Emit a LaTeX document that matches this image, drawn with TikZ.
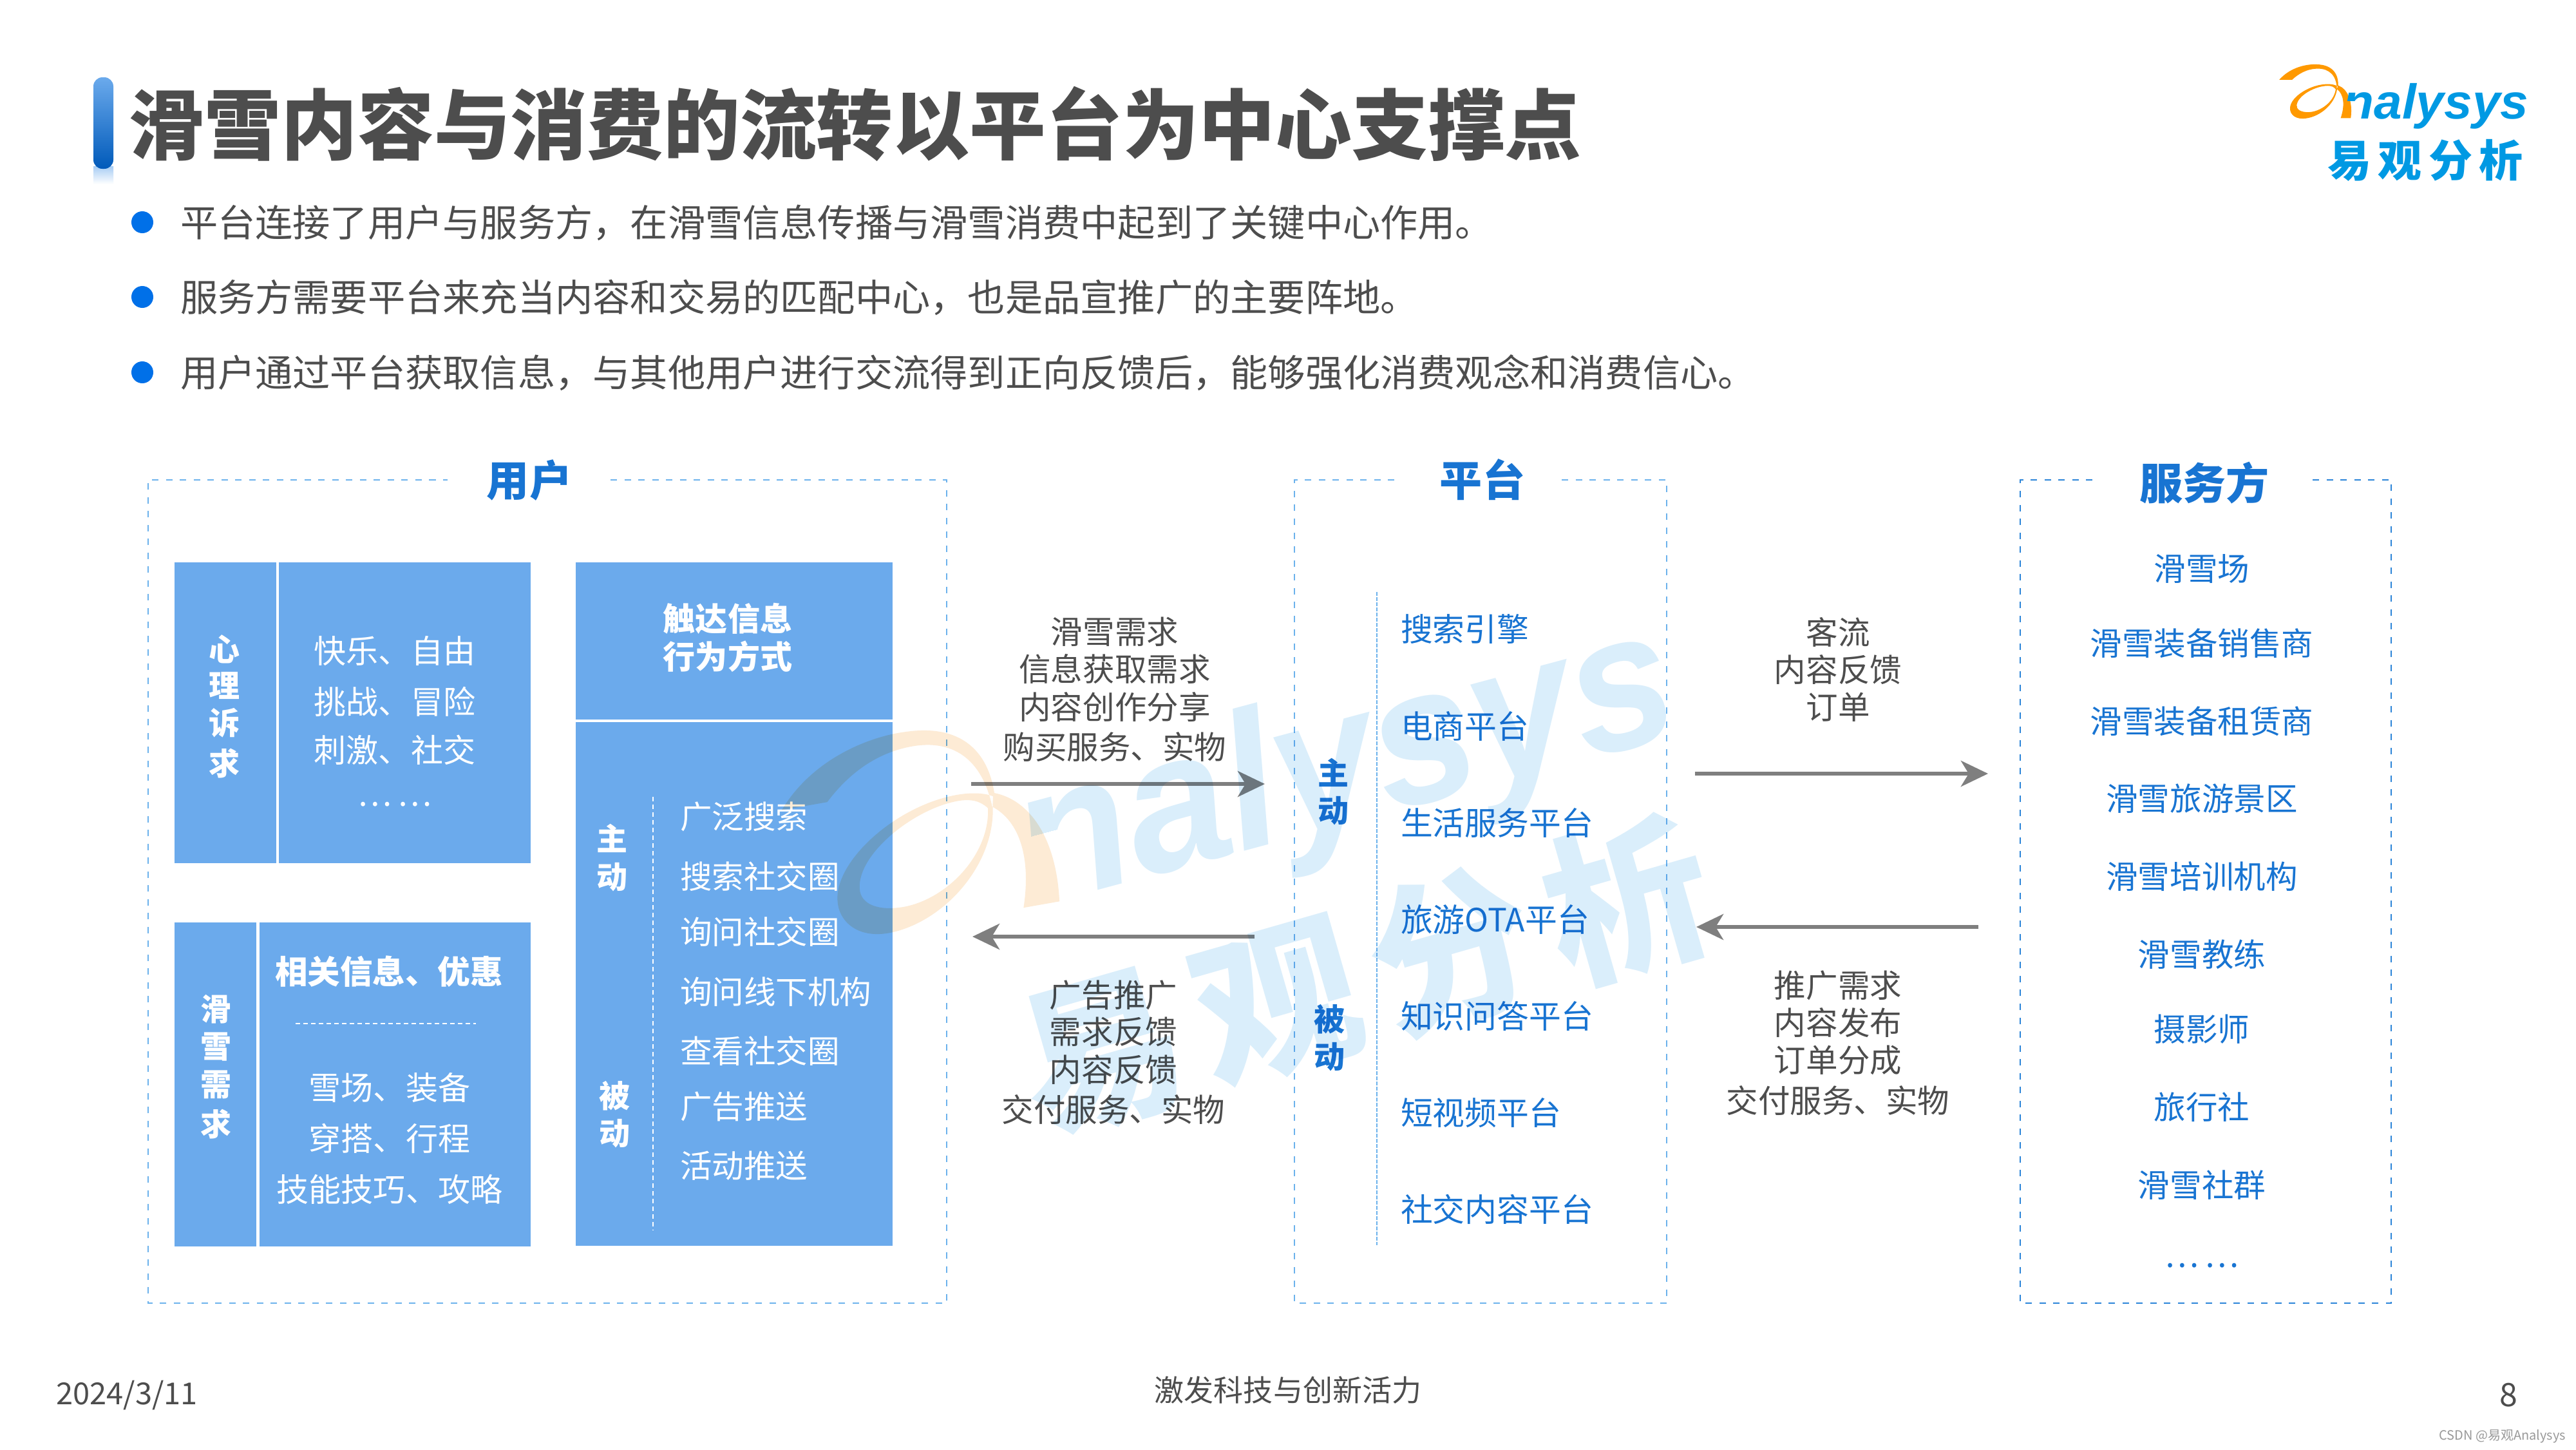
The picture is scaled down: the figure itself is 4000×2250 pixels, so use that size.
\documentclass[tikz,border=0pt]{standalone}
\usepackage{fontspec}
\setmainfont{Noto Sans CJK SC}
\newfontfamily\logofont{Liberation Sans}
\usetikzlibrary{arrows.meta}
\definecolor{tgray}{HTML}{4D4D4D}
\definecolor{tblue}{HTML}{1874D2}
\definecolor{boxblue}{HTML}{6BAAEC}
\definecolor{frameL}{HTML}{6CB2EC}
\definecolor{frameD}{HTML}{2B84D8}
\definecolor{arrowgray}{HTML}{7F7F7F}
\definecolor{bulletblue}{HTML}{0070E8}
\definecolor{logoblue}{HTML}{0099E3}
\definecolor{logoorange}{HTML}{FF9900}
\definecolor{wmblue}{HTML}{DAEEFB}
\definecolor{wmorange}{HTML}{FDEBD5}
\newcommand{\fs}[1]{\dimen0=0.28453pt \dimen0=#1\dimen0 \fontsize{\the\dimen0}{\the\dimen0}\selectfont}
\newcommand{\logoswoosh}{%
  (363,192) .. controls (410,130) and (480,118) .. (515,120) .. controls (580,122) and (603,165) .. (602,218) .. controls (640,235) and (662,290) .. (653,371) -- (612,371) .. controls (630,310) and (625,260) .. (597,235) .. controls (595,170) and (565,140) .. (520,140) .. controls (475,140) and (440,165) .. (415,192) -- cycle
  (598,232) .. controls (590,310) and (520,372) .. (458,373) .. controls (420,373) and (405,345) .. (407,322) .. controls (410,270) and (490,212) .. (560,212) .. controls (575,212) and (590,215) .. (600,222) -- cycle
  (592,236) .. controls (585,295) and (530,342) .. (480,343) .. controls (450,343) and (432,330) .. (434,310) .. controls (438,265) and (510,220) .. (560,220) .. controls (575,220) and (585,225) .. (592,236) -- cycle}
\newcommand{\nclip}[2]{\clip ({-.3*#1},{-.36*#1}) -- ({(.18+.36*.2126)*#1*#2},{-.36*#1}) -- ({.18*#1*#2},0) -- ({.1*#1*#2},{.5*#1}) -- ({9*#1},{.5*#1}) -- ({9*#1},{-2*#1}) -- ({-.3*#1},{-2*#1}) -- cycle;}
\tikzset{
  tx/.code={\pgfmathsetlengthmacro\txh{#1*0.2504pt}\pgfmathsetlengthmacro\txd{#1*0.03414pt}%
    \tikzset{font=\fs{#1},inner sep=0pt,outer sep=0pt,text height=\txh,text depth=\txd}},
  tb/.code={\pgfmathsetlengthmacro\txh{#1*0.2504pt}\pgfmathsetlengthmacro\txd{#1*0.03414pt}%
    \tikzset{font=\fs{#1}\bfseries,inner sep=0pt,outer sep=0pt,text height=\txh,text depth=\txd}},
  graytx/.style={tx=#1,text=tgray},
  bluetx/.style={tx=#1,text=tblue},
  whitetx/.style={tx=#1,text=white},
  bluebold/.style={tb=#1,text=tblue},
  whitebold/.style={tb=#1,text=white},
  graybold/.style={tb=#1,text=tgray},
  panel/.style={fill=boxblue,draw=none},
  frameline/.style={draw=#1,line width=0.024cm,dash pattern=on 0.10cm off 0.115cm},
  flow/.style={draw=arrowgray,line width=0.065cm,-{Stealth[length=0.42cm,width=0.40cm,inset=0.12cm]}},
  whitedash/.style={draw=white,line width=0.016cm,dash pattern=on 0.07cm off 0.05cm}
}
\begin{document}
\begin{tikzpicture}[x=0.01cm,y=-0.01cm]
\useasboundingbox (0,0) rectangle (4000,2250);
\fill[white] (0,0) rectangle (4000,2250);
% title bar
\shade[top color=boxblue!60,bottom color=white,draw=none] (145,258) rectangle (176,286);
\shade[top color=boxblue,bottom color=bulletblue!80!black,rounded corners=0.14cm] (145,120) rectangle (176,262);
\node[graybold=118.7,anchor=west] (title) at (199,193) {滑雪内容与消费的流转以平台为中心支撑点};
% bullets
\foreach \y/\t [count=\i] in {345/平台连接了用户与服务方，在滑雪信息传播与滑雪消费中起到了关键中心作用。,
  461/服务方需要平台来充当内容和交易的匹配中心，也是品宣推广的主要阵地。,
  578/用户通过平台获取信息，与其他用户进行交流得到正向反馈后，能够强化消费观念和消费信心。}{
  \fill[bulletblue] (221,\y) circle (17);
  \node[graytx=58.2,anchor=west] (bul\i) at (280,\y) {\t};
}
% logo
\begin{scope}[shift={(3400,60)},x=0.003827cm,y=-0.003333cm]
  \fill[logoorange,even odd rule] \logoswoosh;
\end{scope}
\begin{scope}[shift={(3638,184)}]
  \nclip{76}{1.03}
  \node[anchor=base west,inner sep=0pt,text=logoblue,font={\logofont\fs{76}\bfseries\itshape},xscale=1.03] (logotext) at (0,0) {nalysys};
\end{scope}
\node[tb=68,text=logoblue,anchor=center] (logocn) at (3766,249) {\addfontfeature{LetterSpace=15}易观分析};
% frames
\coordinate (u1) at (948,745); \coordinate (u2) at (695,745);
\draw[frameline=frameL] (u1) -- (1470,745) -- (1470,2023) -- (230,2023) -- (230,745) -- (u2);
\node[bluebold=66] (hUser) at (822,745) {用户};
\coordinate (p1) at (2425,745); \coordinate (p2) at (2168,745);
\draw[frameline=frameL] (p1) -- (2588,745) -- (2588,2023) -- (2010,2023) -- (2010,745) -- (p2);
\node[bluebold=66] (hPlat) at (2302,745) {平台};
\coordinate (s1) at (3591,745); \coordinate (s2) at (3252,745);
\draw[frameline=frameD] (s1) -- (3713,745) -- (3713,2023) -- (3137,2023) -- (3137,745) -- (s2);
\node[bluebold=67] (hServ) at (3423,750) {服务方};
% user panels
\fill[panel] (271,873) rectangle (429,1340);
\fill[panel] (433,873) rectangle (824,1340);
\fill[panel] (271,1432) rectangle (398,1935);
\fill[panel] (403,1432) rectangle (824,1935);
\fill[panel] (894,873) rectangle (1386,1117);
\fill[panel] (894,1121) rectangle (1386,1934);
% psychological
\foreach \t/\y [count=\i] in {心/1008,理/1064,诉/1122,求/1185}
  \node[whitebold=48] (xl\i) at (349,\y) {\t};
\foreach \t/\y [count=\i] in {快乐、自由/1010,挑战、冒险/1089,刺激、社交/1164}
  \node[whitetx=50] (xla\i) at (613,\y) {\t};
\node[whitetx=50] (xla4) at (613,1232) {…\kern0.09cm…};
% ski demand
\foreach \t/\y [count=\i] in {滑/1566,雪/1624,需/1683,求/1745}
  \node[whitebold=48] (xq\i) at (336,\y) {\t};
\node[whitebold=50.5] (rel) at (604,1508) {相关信息、优惠};
\coordinate (d1) at (459,1589); \coordinate (d2) at (739,1589);
\draw[whitedash] (d1) -- (d2);
\foreach \t/\y [count=\i] in {雪场、装备/1688,穿搭、行程/1767,技能技巧、攻略/1846}
  \node[whitetx=50] (xqa\i) at (605,\y) {\t};
% touch
\node[whitebold=50] (ch1) at (1130,960) {触达信息};
\node[whitebold=50] (ch2) at (1130,1019) {行为方式};
\node[whitebold=48] (zd1) at (950,1302) {主};
\node[whitebold=48] (zd2) at (950,1361) {动};
\node[whitebold=48] (bd1) at (955,1701) {被};
\node[whitebold=48] (bd2) at (955,1759) {动};
\coordinate (c1) at (1014,1237); \coordinate (c2) at (1014,1910);
\draw[whitedash] (c1) -- (c2);
\foreach \t/\y [count=\i] in {广泛搜索/1268,搜索社交圈/1361,询问社交圈/1447,询问线下机构/1540,查看社交圈/1632,广告推送/1718,活动推送/1810}
  \node[whitetx=49.5,anchor=west] (chl\i) at (1056,\y) {\t};
% left arrows
\coordinate (la1) at (1508,1217); \coordinate (la2) at (1964,1217);
\draw[flow] (la1) -- (la2);
\coordinate (lb1) at (1948,1454); \coordinate (lb2) at (1510,1454);
\draw[flow] (lb1) -- (lb2);
\foreach \t/\y [count=\i] in {滑雪需求/981,信息获取需求/1039,内容创作分享/1098,购买服务、实物/1160}
  \node[graytx=49.5] (lt\i) at (1731,\y) {\t};
\foreach \t/\y [count=\i] in {广告推广/1545,需求反馈/1602,内容反馈/1661,交付服务、实物/1723}
  \node[graytx=49.5] (lu\i) at (1729,\y) {\t};
% platform
\coordinate (v1) at (2138,919); \coordinate (v2) at (2138,1933);
\draw[frameL,line width=0.02cm,dash pattern=on 0.06cm off 0.02cm] (v1) -- (v2);
\node[bluebold=48] (pz1) at (2070,1200) {主};
\node[bluebold=48] (pz2) at (2070,1258) {动};
\node[bluebold=48] (pb1) at (2064,1582) {被};
\node[bluebold=48] (pb2) at (2064,1640) {动};
\foreach \t/\y [count=\i] in {搜索引擎/977,电商平台/1128,生活服务平台/1278,旅游OTA平台/1428,知识问答平台/1578,短视频平台/1728,社交内容平台/1878}
  \node[bluetx=49.8,anchor=west] (pl\i) at (2175,\y) {\t};
% right arrows
\coordinate (ra1) at (2632,1201); \coordinate (ra2) at (3087,1201);
\draw[flow] (ra1) -- (ra2);
\coordinate (rb1) at (3072,1439); \coordinate (rb2) at (2634,1439);
\draw[flow] (rb1) -- (rb2);
\foreach \t/\y [count=\i] in {客流/982,内容反馈/1040,订单/1098}
  \node[graytx=49.5] (rt\i) at (2854,\y) {\t};
\foreach \t/\y [count=\i] in {推广需求/1530,内容发布/1588,订单分成/1646,交付服务、实物/1709}
  \node[graytx=49.5] (ru\i) at (2854,\y) {\t};
% service list
\foreach \t/\y [count=\i] in {滑雪场/883,滑雪装备销售商/999,滑雪装备租赁商/1120,滑雪旅游景区/1240,滑雪培训机构/1361,滑雪教练/1482,摄影师/1598,旅行社/1719,滑雪社群/1840}
  \node[bluetx=49.5] (sl\i) at (3419,\y) {\t};
\node[bluetx=50] (sl10) at (3419,1948) {…\kern0.09cm…};
% footer
\node[graytx=47,anchor=center] (date) at (197,2163) {2024/3/11};
\node[graytx=46] (foot) at (2000,2158) {激发科技与创新活力};
\node[graytx=50] (pageno) at (3895,2164) {8};
\node[tx=20,text=black!40,anchor=east] (csdn) at (3984,2228) {CSDN @易观Analysys};
% watermark
\begin{scope}[blend mode=multiply]
  \begin{scope}[shift={(1648,1400)},rotate=10,scale=3.6,x=0.003827cm,y=-0.003333cm,shift={(-655,-372)}]
    \fill[wmorange,even odd rule] \logoswoosh;
  \end{scope}
  \begin{scope}[shift={(1605,1409)},rotate=15,transform shape]
    \nclip{300}{0.95}
    \node[anchor=base west,inner sep=0pt,text=wmblue,font={\logofont\fs{300}\bfseries\itshape},xscale=0.95] (wmtext) at (0,0) {nalysys};
  \end{scope}
  \node[tb=255,text=wmblue,rotate=16] (wmcn) at (2118,1513) {\addfontfeature{LetterSpace=11}易观分析};
\end{scope}
\end{tikzpicture}
\end{document}
